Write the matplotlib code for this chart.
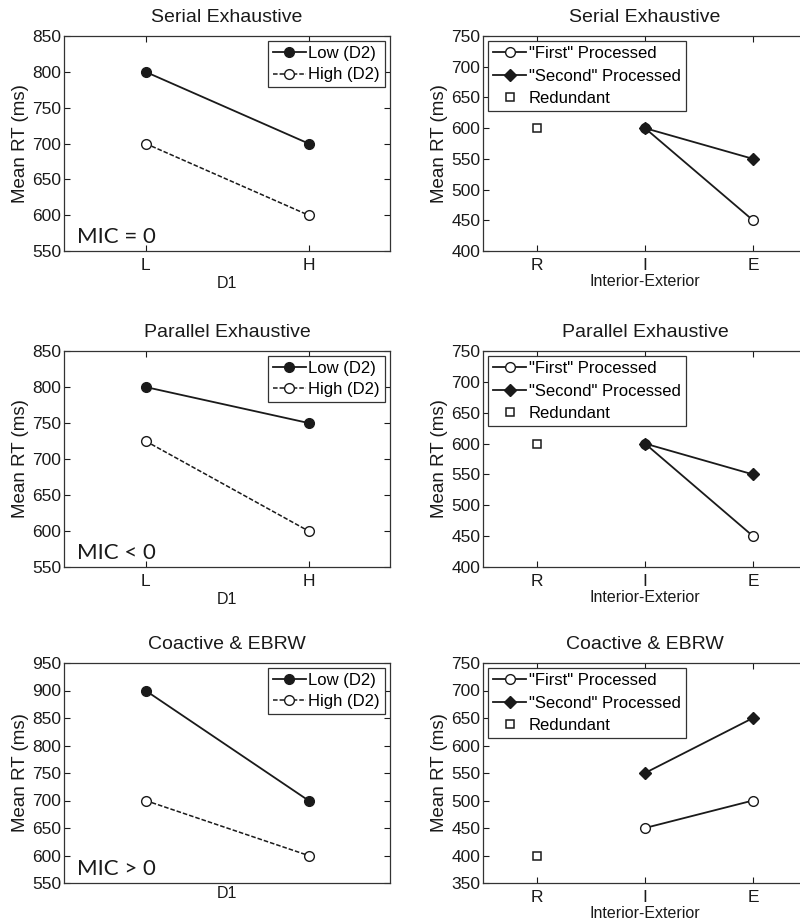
import matplotlib
matplotlib.use("Agg")
import matplotlib.pyplot as plt

plt.rcParams["font.family"] = ["Liberation Sans", "DejaVu Sans"]

# ── Datos ───────────────────────────────────────────────────────────────
TITLES = ["Serial Exhaustive", "Parallel Exhaustive", "Coactive & EBRW"]
MIC_TEXT = ["MIC = 0", "MIC < 0", "MIC > 0"]

D1_LEVELS = ["L", "H"]
LOW_D2 = [[800, 700], [800, 750], [900, 700]]
HIGH_D2 = [[700, 600], [725, 600], [700, 600]]
LEFT_YLIM = [(550, 850), (550, 850), (550, 950)]

IE_LEVELS = ["R", "I", "E"]
FIRST_PROC = [[600, 450], [600, 450], [450, 500]]    # en I, E
SECOND_PROC = [[600, 550], [600, 550], [550, 650]]   # en I, E
REDUNDANT = [600, 600, 400]                           # en R
RIGHT_YLIM = [(400, 750), (400, 750), (350, 750)]

W, H = 800, 922
INK = "#1a1a1a"

fig = plt.figure(figsize=(W / 100, H / 100), dpi=100, facecolor="white")

ROWS = [(36, 251), (351, 567), (663, 883)]


def _axes(x0, x1, y0, y1):
    return fig.add_axes([x0 / W, 1 - y1 / H, (x1 - x0) / W, (y1 - y0) / H])


def _style(ax):
    ax.tick_params(direction="in", top=True, right=True, length=4,
                   width=0.8, labelsize=12.5, colors=INK, pad=2)
    ax.tick_params(axis="x", pad=5)
    for s in ax.spines.values():
        s.set_color("#333333")
        s.set_linewidth(0.9)


def _legend(ax, loc, size, spacing):
    leg = ax.legend(loc=loc, fontsize=size, handlelength=2.0,
                    handletextpad=0.15, borderpad=0.3, labelspacing=spacing,
                    borderaxespad=0.3, fancybox=False, framealpha=1)
    leg.get_frame().set_edgecolor("#333333")
    leg.get_frame().set_linewidth(0.9)


for i, (y0, y1) in enumerate(ROWS):
    # ── Panel izquierdo: D1 x D2 ──
    ax = _axes(64, 390, y0, y1)
    x = [1, 2]
    ax.plot(x, LOW_D2[i], "-o", color=INK, lw=1.3, ms=7,
            mfc=INK, mec=INK, label="Low (D2)")
    ax.plot(x, HIGH_D2[i], linestyle=(0, (3, 1.3)), marker="o", color=INK,
            lw=1.1, ms=7, mfc="white", mec=INK, label="High (D2)")
    ax.set_xlim(0.5, 2.5)
    ax.set_ylim(*LEFT_YLIM[i])
    lo, hi = LEFT_YLIM[i]
    ax.set_yticks(range(lo, hi + 1, 50))
    if i < 2:
        ax.set_xticks(x)
        ax.set_xticklabels(D1_LEVELS)
    else:
        ax.set_xticks([])
    _style(ax)
    ax.set_xlabel("D1", fontsize=11.5, color=INK, labelpad=2)
    ax.set_ylabel("Mean RT (ms)", fontsize=13.5, color=INK, labelpad=2)
    ax.set_title(TITLES[i], fontsize=14, color=INK, pad=10)
    _legend(ax, "upper right", 12, 0.38)
    ax.text(0.04, 0.02, MIC_TEXT[i], transform=ax.transAxes,
            fontsize=16, family=["Lato", "DejaVu Sans"], color=INK,
            ha="left", va="bottom")

    # ── Panel derecho: Interior-Exterior ──
    ax = _axes(483, 807, y0, y1)
    ax.plot([2, 3], FIRST_PROC[i], "-o", color=INK, lw=1.3, ms=7,
            mfc="white", mec=INK, label='"First" Processed')
    ax.plot([2, 3], SECOND_PROC[i], "-D", color=INK, lw=1.3, ms=6.5,
            mfc=INK, mec=INK, label='"Second" Processed')
    ax.plot([1], [REDUNDANT[i]], "s", color=INK, ms=6, mfc="white",
            mec=INK, mew=1.1, label="Redundant")
    ax.set_xlim(0.5, 3.5)
    ax.set_ylim(*RIGHT_YLIM[i])
    lo, hi = RIGHT_YLIM[i]
    ax.set_yticks(range(lo, hi + 1, 50))
    ax.set_xticks([1, 2, 3])
    ax.set_xticklabels(IE_LEVELS)
    _style(ax)
    ax.set_xlabel("Interior-Exterior", fontsize=11.5, color=INK, labelpad=1)
    ax.set_ylabel("Mean RT (ms)", fontsize=13.5, color=INK, labelpad=2)
    ax.set_title(TITLES[i], fontsize=14, color=INK, pad=10)
    _legend(ax, "upper left", 12, 0.45)

fig.savefig("out.png", dpi=100, facecolor="white")
